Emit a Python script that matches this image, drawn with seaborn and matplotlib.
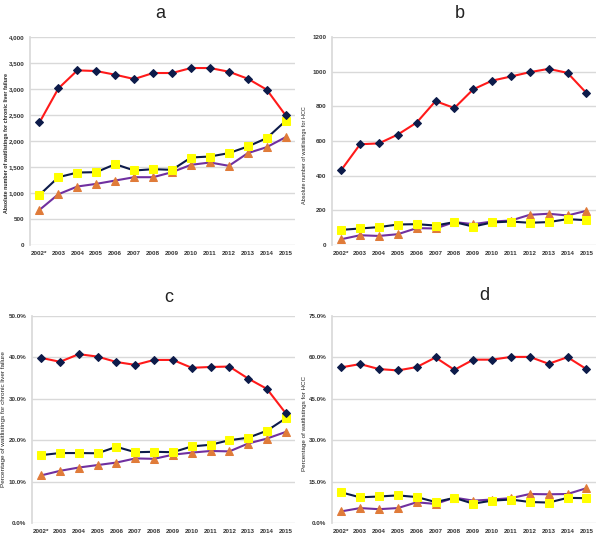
import numpy as np
import pandas as pd
import seaborn as sns
import matplotlib.pyplot as plt
import matplotlib.ticker as mticker

# Years on the x axis
years = ['2002*', '2003', '2004', '2005', '2006', '2007', '2008',
         '2009', '2010', '2011', '2012', '2013', '2014', '2015']

# Panel a: absolute number of waitlistings, chronic liver failure
a_red = [2356, 3011, 3358, 3345, 3274, 3191, 3307, 3307, 3403, 3403, 3332, 3197, 2986, 2491]
a_yellow = [963, 1303, 1393, 1400, 1554, 1432, 1457, 1445, 1682, 1701, 1766, 1894, 2055, 2388]
a_orange = [674, 976, 1124, 1175, 1239, 1303, 1303, 1400, 1541, 1586, 1522, 1766, 1881, 2074]

# Panel b: absolute number of waitlistings, HCC
b_red = [432, 581, 586, 637, 706, 830, 790, 898, 948, 972, 997, 1016, 993, 877]
b_yellow = [87, 95, 103, 118, 120, 112, 132, 106, 130, 135, 128, 132, 149, 143]
b_orange = [33, 56, 52, 62, 97, 95, 132, 120, 135, 141, 174, 180, 170, 197]

# Panel c: percentage of waitlistings, chronic liver failure
c_red = [39.9, 38.95, 40.8, 40.2, 38.9, 38.2, 39.4, 39.4, 37.5, 37.7, 37.8, 34.9, 32.4, 26.5]
c_yellow = [16.4, 16.9, 16.9, 16.85, 18.4, 17.1, 17.2, 17.1, 18.5, 18.9, 20.0, 20.6, 22.3, 25.3]
c_orange = [11.5, 12.6, 13.4, 14.0, 14.6, 15.6, 15.5, 16.5, 17.0, 17.4, 17.3, 19.2, 20.4, 22.0]

# Panel d: percentage of waitlistings, HCC
d_red = [56.4, 57.6, 55.8, 55.3, 56.5, 60.0, 55.5, 59.2, 59.2, 60.2, 60.2, 57.7, 60.1, 55.8]
d_yellow = [11.1, 9.3, 9.6, 10.0, 9.4, 7.6, 9.1, 7.0, 8.1, 8.5, 7.6, 7.4, 9.1, 9.0]
d_orange = [4.2, 5.4, 5.0, 5.4, 7.5, 6.9, 9.2, 8.1, 8.5, 9.0, 10.5, 10.4, 10.5, 12.6]

NAVY = '#0d1b4a'
RED = '#ff1a1a'
YELLOW = '#ffff00'
PURPLE = '#7030a0'
ORANGE = '#e07b39'
GRID = '#d9d9d9'

sns.set_theme(style="white")
plt.rcParams['font.family'] = ['Liberation Sans', 'DejaVu Sans']

fig = plt.figure(figsize=(6.0, 5.36), dpi=100, facecolor='white')

# letter, axes rect, series, ymax, step, ylabel, tick format, title pos, label x/y, label size
panels = [
    ('a', [0.050, 0.543, 0.442, 0.388], a_red, a_yellow, a_orange, 4000, 500,
     'Absolute number of waitlistings for chronic liver failure', 'comma', (160, 14), (-0.078, 0.49), 3.8),
    ('b', [0.553, 0.543, 0.440, 0.388], b_red, b_yellow, b_orange, 1200, 200,
     'Absolute number of waitlistings for HCC', 'int', (460, 14), (-0.095, 0.43), 4.0),
    ('c', [0.053, 0.0243, 0.439, 0.386], c_red, c_yellow, c_orange, 50, 10,
     'Percentage of waitlistings for chronic liver failure', 'pct', (169, 298), (-0.098, 0.5), 4.6),
    ('d', [0.553, 0.0243, 0.440, 0.386], d_red, d_yellow, d_orange, 75, 15,
     'Percentage of waitlistings for HCC', 'pct', (484, 296), (-0.095, 0.48), 4.5),
]

x = np.arange(len(years))

for letter, rect, red, yellow, orange, ymax, step, ylabel, fmt, tpos, lpos, lsize in panels:
    ax = fig.add_axes(rect)
    sns.lineplot(x=x, y=orange, ax=ax, color=PURPLE, lw=1.5, marker='^',
                 markersize=5.5, markerfacecolor=ORANGE, markeredgecolor=ORANGE)
    sns.lineplot(x=x, y=yellow, ax=ax, color=NAVY, lw=1.5, marker='s',
                 markersize=6, markerfacecolor=YELLOW, markeredgecolor=YELLOW)
    sns.lineplot(x=x, y=red, ax=ax, color=RED, lw=1.5, marker='D',
                 markersize=4.5, markerfacecolor=NAVY, markeredgecolor=NAVY)

    ax.set_xlim(-0.5, len(years) - 0.5)
    ax.set_ylim(0, ymax)
    ax.set_xticks(x)
    ax.set_xticklabels(years, fontsize=4.5, fontweight='bold', color='#333333')
    ax.yaxis.set_major_locator(mticker.MultipleLocator(step))
    if fmt == 'comma':
        ax.yaxis.set_major_formatter(mticker.FuncFormatter(lambda v, p: f'{v:,.0f}'))
    elif fmt == 'pct':
        ax.yaxis.set_major_formatter(mticker.FuncFormatter(lambda v, p: f'{v:.1f}%'))
    else:
        ax.yaxis.set_major_formatter(mticker.FuncFormatter(lambda v, p: f'{v:.0f}'))
    for lab in ax.get_yticklabels():
        lab.set_fontsize(4.5)
        lab.set_fontweight('bold')
        lab.set_color('#333333')
    ax.tick_params(axis='both', length=0, pad=4)

    ax.grid(axis='y', color=GRID, lw=1)
    ax.set_axisbelow(True)
    for s in ['top', 'right', 'bottom']:
        ax.spines[s].set_visible(False)
    ax.spines['left'].set_color(GRID)

    ax.set_ylabel(ylabel, fontsize=lsize,
                  fontweight='bold' if letter == 'a' else 'normal', color='#222222')
    ax.yaxis.set_label_coords(*lpos)

    fig.text(tpos[0] / 600, 1 - tpos[1] / 536, letter, fontsize=13,
             ha='center', va='center', color='#222222')

plt.savefig('out.png', dpi=100, facecolor='white')
